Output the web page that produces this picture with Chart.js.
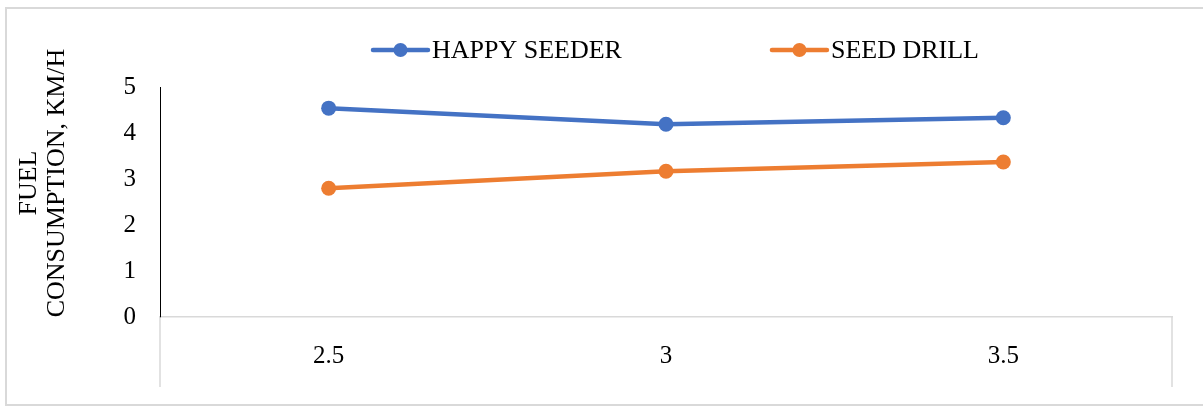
<!DOCTYPE html>
<html>
<head>
<meta charset="utf-8">
<script src="https://cdn.jsdelivr.net/npm/chart.js@4"></script>
<style>
  html, body { margin: 0; padding: 0; background: #fff; }
  #wrap { position: relative; width: 1203px; height: 410px; overflow: hidden; }
  #frame { position: absolute; left: 5px; top: 7px; width: 1210px; height: 399px; border: 2px solid #d9d9d9; box-sizing: border-box; }
  canvas { position: absolute; left: 0; top: 0; }
</style>
</head>
<body>
<div id="wrap">
  <div id="frame"></div>
  <canvas id="chart" width="1203" height="410"></canvas>
</div>
<script>
// datos
const speeds = ['2.5', '3', '3.5'];
const happySeeder = [4.54, 4.19, 4.33];
const seedDrill = [2.80, 3.17, 3.37];
const seriesNames = ['HAPPY SEEDER', 'SEED DRILL'];
const yTitle = ['FUEL', 'CONSUMPTION, KM/H'];

const FONT = '"Liberation Serif", "Times New Roman", serif';

// leyenda propia: linea + punto + texto, con mucho espacio entre items
const legendPlugin = {
    id: 'customLegend',
    afterDraw(chart) {
        const ctx = chart.ctx;
        const area = chart.chartArea;
        ctx.save();
        ctx.font = '26px ' + FONT;
        ctx.textBaseline = 'middle';
        const lineW = 55, gapText = 4, gapItems = 150;
        const items = chart.data.datasets.map(ds => ({
            ds: ds,
            w: lineW + gapText + ctx.measureText(ds.label).width
        }));
        const total = items.reduce((s, it) => s + it.w, 0) + gapItems * (items.length - 1);
        let x = (area.left + area.right) / 2 + 10 - total / 2;
        const y = 50;
        items.forEach(it => {
            ctx.strokeStyle = it.ds.borderColor;
            ctx.lineWidth = 4.5;
            ctx.lineCap = 'round';
            ctx.beginPath();
            ctx.moveTo(x, y);
            ctx.lineTo(x + lineW, y);
            ctx.stroke();
            ctx.fillStyle = it.ds.borderColor;
            ctx.beginPath();
            ctx.arc(x + lineW / 2, y, 7, 0, Math.PI * 2);
            ctx.fill();
            ctx.fillStyle = '#000';
            ctx.fillText(it.ds.label, x + lineW + gapText, y + 1);
            x += it.w + gapItems;
        });
        ctx.restore();
    }
};

// titulo del eje Y en dos lineas y lineas verticales de los extremos del eje X
const axisExtras = {
    id: 'axisExtras',
    afterDraw(chart) {
        const ctx = chart.ctx;
        const area = chart.chartArea;
        ctx.save();
        ctx.strokeStyle = '#d9d9d9';
        ctx.lineWidth = 1.5;
        [area.left, area.right].forEach(px => {
            ctx.beginPath();
            ctx.moveTo(px, area.bottom);
            ctx.lineTo(px, area.bottom + 70);
            ctx.stroke();
        });
        ctx.translate(0, area.top + (area.bottom - area.top) / 2 - 19);
        ctx.rotate(-Math.PI / 2);
        ctx.font = '26px ' + FONT;
        ctx.fillStyle = '#000';
        ctx.textAlign = 'center';
        ctx.textBaseline = 'middle';
        ctx.fillText(yTitle[0], 0, 29);
        ctx.fillText(yTitle[1], 0, 57);
        ctx.restore();
    }
};

const chart = new Chart(document.getElementById('chart'), {
    type: 'line',
    data: {
        labels: speeds,
        datasets: [
            {
                label: seriesNames[0],
                data: happySeeder,
                borderColor: '#4472C4',
                backgroundColor: '#4472C4',
                borderWidth: 4.5,
                tension: 0,
                pointRadius: 7.5,
                pointBorderWidth: 0,
                pointBackgroundColor: '#4472C4'
            },
            {
                label: seriesNames[1],
                data: seedDrill,
                borderColor: '#ED7D31',
                backgroundColor: '#ED7D31',
                borderWidth: 4.5,
                tension: 0,
                pointRadius: 7.5,
                pointBorderWidth: 0,
                pointBackgroundColor: '#ED7D31'
            }
        ]
    },
    options: {
        responsive: false,
        animation: false,
        layout: { padding: { top: 87, right: 31, bottom: 15, left: 0 } },
        plugins: {
            legend: { display: false },
            tooltip: { enabled: false }
        },
        scales: {
            x: {
                offset: true,
                grid: { display: true, color: 'transparent', drawTicks: false },
                border: { display: true, color: '#d9d9d9', width: 1.5 },
                ticks: { color: '#000', padding: 24, font: { family: FONT, size: 25 } }
            },
            y: {
                min: 0,
                max: 5,
                afterFit(scale) { scale.width = 160; },
                grid: { display: false, drawTicks: false },
                border: { display: true, color: '#000', width: 1 },
                ticks: { stepSize: 1, color: '#000', padding: 24, font: { family: FONT, size: 25 } }
            }
        }
    },
    plugins: [legendPlugin, axisExtras]
});
</script>
</body>
</html>
